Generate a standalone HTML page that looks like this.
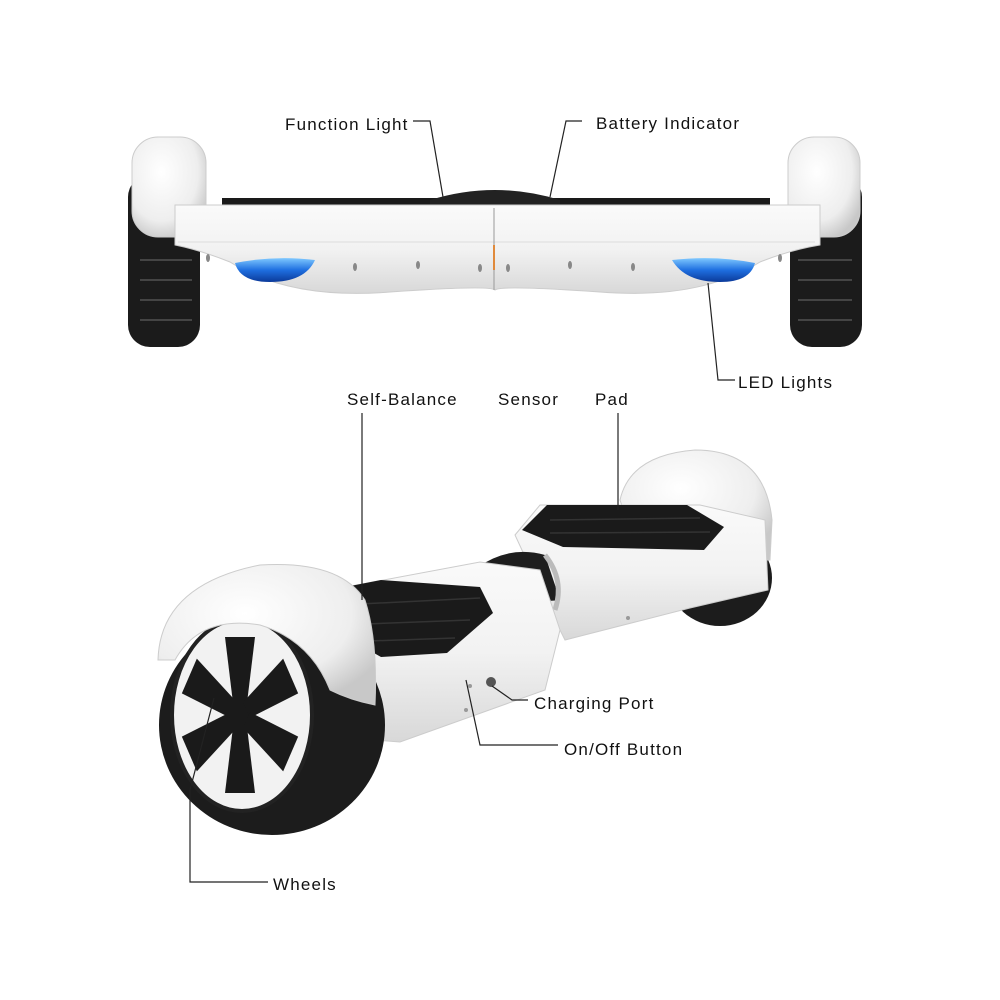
<!DOCTYPE html>
<html><head><meta charset="utf-8"><style>
html,body{margin:0;padding:0;background:#fff}
svg{display:block}
text{font-family:"Liberation Sans",sans-serif;font-size:17px;letter-spacing:1.2px;fill:#111}
</style></head><body>
<svg width="1000" height="1000" viewBox="0 0 1000 1000" xmlns="http://www.w3.org/2000/svg">
<defs>
<linearGradient id="bodyG" x1="0" y1="0" x2="0" y2="1">
<stop offset="0" stop-color="#fafafa"/><stop offset="0.5" stop-color="#f2f2f2"/><stop offset="1" stop-color="#d8d8d8"/></linearGradient>
<linearGradient id="ledG" x1="0" y1="0" x2="0" y2="1">
<stop offset="0" stop-color="#7ec8ff"/><stop offset="0.5" stop-color="#1f6fe0"/><stop offset="1" stop-color="#0b3a9a"/></linearGradient>
<radialGradient id="fendG" cx="0.4" cy="0.35" r="0.7">
<stop offset="0" stop-color="#ffffff"/><stop offset="0.7" stop-color="#eeeeee"/><stop offset="1" stop-color="#c8c8c8"/></radialGradient>
</defs>

<!-- TOP VIEW -->
<rect x="128" y="175" width="72" height="172" rx="22" fill="#1b1b1b"/>
<rect x="790" y="175" width="72" height="172" rx="22" fill="#1b1b1b"/>
<g stroke="#444" stroke-width="2">
<line x1="140" y1="260" x2="192" y2="260"/><line x1="140" y1="280" x2="192" y2="280"/><line x1="140" y1="300" x2="192" y2="300"/><line x1="140" y1="320" x2="192" y2="320"/>
<line x1="798" y1="260" x2="852" y2="260"/><line x1="798" y1="280" x2="852" y2="280"/><line x1="798" y1="300" x2="852" y2="300"/><line x1="798" y1="320" x2="852" y2="320"/>
</g>
<rect x="132" y="137" width="74" height="100" rx="26" fill="url(#fendG)" stroke="#ccc"/>
<rect x="788" y="137" width="72" height="100" rx="26" fill="url(#fendG)" stroke="#ccc"/>
<path d="M222 198 L440 198 L440 208 L222 208 Z" fill="#1a1a1a"/>
<path d="M550 198 L770 198 L770 208 L550 208 Z" fill="#1a1a1a"/>
<path d="M430 200 Q495 180 560 200 L560 210 L430 210 Z" fill="#222"/>
<path d="M175 205 L820 205 L820 245 Q790 250 760 262 Q700 300 600 292 Q500 285 495 290 Q490 285 390 292 Q290 300 230 262 Q200 250 175 245 Z" fill="url(#bodyG)" stroke="#ccc"/>
<line x1="178" y1="242" x2="815" y2="242" stroke="#ddd"/>
<line x1="494" y1="208" x2="494" y2="290" stroke="#999"/>
<line x1="494" y1="245" x2="494" y2="270" stroke="#e08a3c" stroke-width="2"/>
<path d="M235 263 Q275 255 315 260 Q305 282 270 282 Q240 282 235 263 Z" fill="url(#ledG)"/>
<path d="M672 260 Q715 255 755 263 Q750 282 720 282 Q685 282 672 260 Z" fill="url(#ledG)"/>
<g fill="#888">
<ellipse cx="208" cy="258" rx="2" ry="4"/><ellipse cx="355" cy="267" rx="2" ry="4"/><ellipse cx="418" cy="265" rx="2" ry="4"/><ellipse cx="480" cy="268" rx="2" ry="4"/>
<ellipse cx="508" cy="268" rx="2" ry="4"/><ellipse cx="570" cy="265" rx="2" ry="4"/><ellipse cx="633" cy="267" rx="2" ry="4"/><ellipse cx="780" cy="258" rx="2" ry="4"/>
</g>

<!-- BOTTOM VIEW -->
<ellipse cx="720" cy="578" rx="52" ry="48" fill="#1c1c1c"/>
<path d="M620 500 Q630 455 695 450 Q765 450 772 520 L770 560 L640 560 Z" fill="url(#fendG)" stroke="#ccc"/>
<path d="M515 535 L540 505 L700 505 L765 520 L768 590 L690 608 L565 640 L545 600 Z" fill="url(#bodyG)" stroke="#ccc"/>
<path d="M522 530 L547 505 L687 505 L724 527 L704 550 L563 547 Z" fill="#1a1a1a"/>
<path d="M478 567 Q510 545 545 555 L560 600 Q530 605 500 575 Z" fill="#1e1e1e"/>
<path d="M545 555 Q565 580 555 610" stroke="#bbb" stroke-width="5" fill="none"/>
<path d="M330 590 L480 562 L540 570 L560 630 L545 690 L400 742 L375 740 L330 680 Z" fill="url(#bodyG)" stroke="#ccc"/>
<path d="M328 627 L330 590 L381 580 L480 587 L493 613 L447 653 L381 657 Z" fill="#1a1a1a"/>
<g stroke="#333" stroke-width="1.5" fill="none">
<line x1="340" y1="605" x2="480" y2="598"/><line x1="340" y1="625" x2="470" y2="620"/><line x1="340" y1="642" x2="455" y2="638"/>
<line x1="550" y1="520" x2="700" y2="518"/><line x1="550" y1="533" x2="710" y2="532"/>
</g>
<ellipse cx="272" cy="725" rx="113" ry="110" fill="#1c1c1c"/>
<ellipse cx="242" cy="715" rx="70" ry="96" fill="#f2f2f2" stroke="#222" stroke-width="4"/>
<g fill="#1a1a1a" transform="translate(240 715) scale(0.75 1)">
<circle r="16"/>
<path d="M-9 -10 L-20 -78 L20 -78 L9 -10 Z"/>
<path d="M-9 -10 L-20 -78 L20 -78 L9 -10 Z" transform="rotate(60)"/>
<path d="M-9 -10 L-20 -78 L20 -78 L9 -10 Z" transform="rotate(120)"/>
<path d="M-9 -10 L-20 -78 L20 -78 L9 -10 Z" transform="rotate(180)"/>
<path d="M-9 -10 L-20 -78 L20 -78 L9 -10 Z" transform="rotate(240)"/>
<path d="M-9 -10 L-20 -78 L20 -78 L9 -10 Z" transform="rotate(300)"/>
</g>
<path d="M158 660 Q160 585 260 565 Q340 560 365 600 Q378 640 375 705 Q350 700 330 690 Q310 640 260 625 Q200 615 175 660 Z" fill="url(#fendG)" stroke="#ccc"/>
<circle cx="491" cy="682" r="5" fill="#555"/>
<g fill="#999"><circle cx="470" cy="686" r="2"/><circle cx="628" cy="618" r="2"/><circle cx="466" cy="710" r="2"/></g>

<g stroke="#222" stroke-width="1.2" fill="none">
<polyline points="413,121 430,121 443,197"/>
<polyline points="582,121 566,121 550,197"/>
<polyline points="708,283 718,380 735,380"/>
<line x1="362" y1="413" x2="362" y2="600"/>
<line x1="618" y1="413" x2="618" y2="510"/>
<polyline points="492,686 512,700 528,700"/>
<polyline points="466,680 480,745 558,745"/>
<polyline points="214,698 190,790 190,882 268,882"/>
</g>

<text x="285" y="130">Function Light</text>
<text x="596" y="129">Battery Indicator</text>
<text x="738" y="388">LED Lights</text>
<text x="347" y="405">Self-Balance</text>
<text x="498" y="405">Sensor</text>
<text x="595" y="405">Pad</text>
<text x="534" y="709">Charging Port</text>
<text x="564" y="755">On/Off Button</text>
<text x="273" y="890">Wheels</text>
</svg>
</body></html>
